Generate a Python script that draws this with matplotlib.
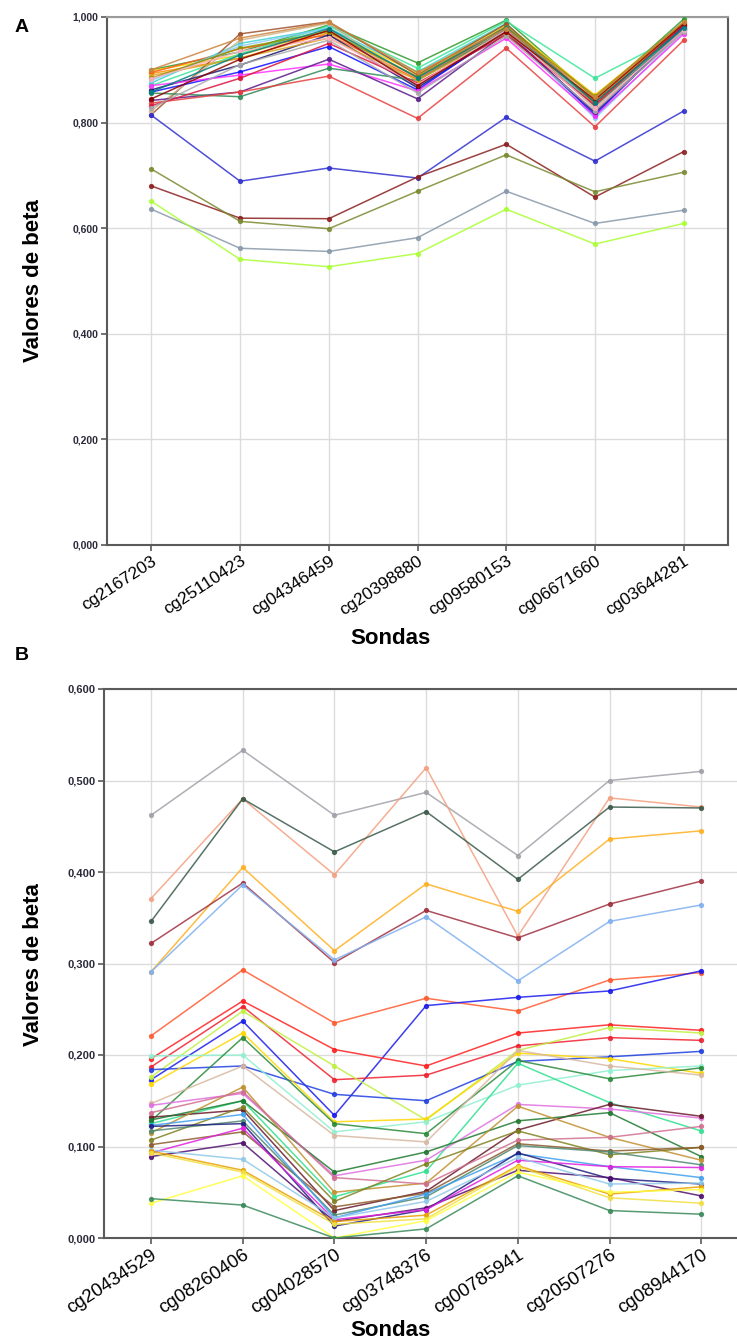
import numpy as np
import matplotlib
matplotlib.use("Agg")
import matplotlib.pyplot as plt

plt.rcParams['font.family'] = ['Liberation Sans', 'DejaVu Sans']

# ---- Panel A data ----
probes_a = ["cg2167203", "cg25110423", "cg04346459", "cg20398880",
            "cg09580153", "cg06671660", "cg03644281"]

series_a = [
    [0.900, 0.934, 0.985, 0.913, 0.994, 0.846, 0.996],
    [0.898, 0.928, 0.975, 0.893, 0.985, 0.852, 0.989],
    [0.893, 0.922, 0.970, 0.886, 0.981, 0.840, 0.985],
    [0.895, 0.940, 0.966, 0.882, 0.978, 0.835, 0.983],
    [0.875, 0.950, 0.979, 0.896, 0.988, 0.830, 0.980],
    [0.870, 0.930, 0.983, 0.903, 0.992, 0.884, 0.970],
    [0.815, 0.968, 0.991, 0.890, 0.987, 0.838, 0.982],
    [0.822, 0.956, 0.988, 0.870, 0.980, 0.826, 0.975],
    [0.880, 0.945, 0.979, 0.867, 0.976, 0.808, 0.972],
    [0.862, 0.909, 0.966, 0.866, 0.972, 0.818, 0.978],
    [0.858, 0.896, 0.944, 0.862, 0.976, 0.814, 0.983],
    [0.870, 0.890, 0.911, 0.860, 0.960, 0.812, 0.968],
    [0.842, 0.858, 0.920, 0.845, 0.970, 0.820, 0.975],
    [0.856, 0.849, 0.903, 0.880, 0.975, 0.830, 0.978],
    [0.837, 0.858, 0.888, 0.808, 0.941, 0.792, 0.956],
    [0.832, 0.884, 0.950, 0.875, 0.966, 0.833, 0.985],
    [0.889, 0.922, 0.960, 0.880, 0.970, 0.845, 0.989],
    [0.884, 0.941, 0.972, 0.887, 0.982, 0.850, 0.990],
    [0.828, 0.910, 0.956, 0.856, 0.964, 0.822, 0.972],
    [0.883, 0.935, 0.960, 0.872, 0.975, 0.828, 0.975],
    [0.845, 0.920, 0.975, 0.870, 0.972, 0.843, 0.987],
    [0.858, 0.928, 0.978, 0.885, 0.980, 0.838, 0.980],
    [0.900, 0.960, 0.990, 0.895, 0.978, 0.848, 0.991],
    # lower group
    [0.814, 0.689, 0.714, 0.695, 0.810, 0.727, 0.822],
    [0.680, 0.619, 0.618, 0.697, 0.759, 0.659, 0.745],
    [0.712, 0.613, 0.599, 0.670, 0.739, 0.669, 0.706],
    [0.636, 0.562, 0.556, 0.582, 0.670, 0.609, 0.634],
    [0.651, 0.541, 0.527, 0.552, 0.636, 0.570, 0.609],
]
colors_a = [
    "#2e9b2e", "#ffd000", "#ff8c00", "#ff5a1a", "#40d0d0", "#3ce69a",
    "#a0522d", "#d2b48c", "#87cefa", "#191970", "#1010ff", "#ff30ff",
    "#5a1a8b", "#2e8b57", "#e84040", "#dc143c", "#daa520", "#909000",
    "#a9a9a9", "#ffb0c0", "#8b0000", "#008080", "#cd853f",
    "#3030d0", "#8b2020", "#7a8a30", "#8899aa", "#aaff33",
]

# ---- Panel B data ----
probes_b = ["cg20434529", "cg08260406", "cg04028570", "cg03748376",
            "cg00785941", "cg20507276", "cg08944170"]

series_b = [
    [0.462, 0.533, 0.462, 0.487, 0.418, 0.500, 0.510],
    [0.371, 0.480, 0.397, 0.514, 0.330, 0.481, 0.471],
    [0.346, 0.480, 0.422, 0.466, 0.392, 0.471, 0.470],
    [0.291, 0.405, 0.314, 0.387, 0.357, 0.436, 0.445],
    [0.322, 0.388, 0.301, 0.358, 0.328, 0.365, 0.390],
    [0.291, 0.386, 0.304, 0.351, 0.281, 0.346, 0.364],
    [0.221, 0.293, 0.235, 0.262, 0.248, 0.282, 0.290],
    [0.173, 0.237, 0.134, 0.254, 0.263, 0.270, 0.292],
    [0.196, 0.259, 0.206, 0.188, 0.224, 0.233, 0.227],
    [0.187, 0.253, 0.173, 0.178, 0.210, 0.219, 0.216],
    [0.176, 0.248, 0.188, 0.129, 0.205, 0.230, 0.224],
    [0.184, 0.188, 0.157, 0.150, 0.193, 0.198, 0.204],
    [0.168, 0.224, 0.127, 0.130, 0.202, 0.196, 0.180],
    [0.199, 0.200, 0.116, 0.127, 0.167, 0.183, 0.188],
    [0.128, 0.219, 0.125, 0.114, 0.194, 0.174, 0.186],
    [0.147, 0.188, 0.112, 0.105, 0.205, 0.188, 0.178],
    [0.125, 0.150, 0.045, 0.073, 0.191, 0.148, 0.117],
    [0.145, 0.158, 0.068, 0.085, 0.146, 0.141, 0.131],
    [0.132, 0.140, 0.030, 0.051, 0.118, 0.146, 0.133],
    [0.129, 0.150, 0.072, 0.094, 0.128, 0.137, 0.089],
    [0.115, 0.165, 0.050, 0.060, 0.144, 0.110, 0.085],
    [0.137, 0.160, 0.066, 0.059, 0.107, 0.110, 0.122],
    [0.107, 0.143, 0.040, 0.081, 0.117, 0.091, 0.099],
    [0.102, 0.116, 0.034, 0.049, 0.103, 0.095, 0.099],
    [0.117, 0.128, 0.025, 0.045, 0.101, 0.094, 0.080],
    [0.123, 0.135, 0.022, 0.048, 0.092, 0.078, 0.066],
    [0.122, 0.125, 0.013, 0.031, 0.093, 0.065, 0.059],
    [0.089, 0.104, 0.018, 0.033, 0.074, 0.066, 0.046],
    [0.093, 0.120, 0.020, 0.031, 0.085, 0.078, 0.077],
    [0.096, 0.086, 0.022, 0.040, 0.088, 0.059, 0.060],
    [0.095, 0.074, 0.018, 0.025, 0.079, 0.048, 0.056],
    [0.093, 0.072, 0.015, 0.021, 0.078, 0.044, 0.038],
    [0.038, 0.068, 0.000, 0.019, 0.072, 0.050, 0.053],
    [0.043, 0.036, 0.000, 0.010, 0.068, 0.030, 0.026],
]
colors_b = [
    "#a0a0a8", "#f4a080", "#3a5a4a", "#ffb020", "#a03040", "#80b0f0",
    "#ff5a30", "#1a1aee", "#ff2020", "#f02030", "#c0f040", "#2040e0",
    "#ffd800", "#90f0d0", "#2a8a3a", "#d8b8a0", "#30e090", "#e070e0",
    "#6a1a2a", "#207a30", "#c09030", "#d07090", "#808020", "#8b5a2b",
    "#508870", "#40a0f0", "#202080", "#501070", "#e020e0", "#90c8e8",
    "#e8a000", "#f0e040", "#ffff40", "#3a8a5a",
]

grid_col = "#dcdcdc"
spine_col = "#5a5a5a"
tick_col = "#2a2a3a"


def style_axes(ax, ticks, ticklabels, fmt_size, xlab_size):
    ax.grid(True, color=grid_col, linewidth=1.0, zorder=0)
    ax.set_axisbelow(True)
    ax.set_yticks(ticks)
    ax.set_yticklabels([f"{t:.3f}".replace(".", ",") for t in ticks],
                       fontsize=fmt_size, fontweight="bold", color=tick_col)
    ax.set_xticks(range(len(ticklabels)))
    ax.set_xticklabels(ticklabels, rotation=33, ha="right",
                       rotation_mode="anchor", fontsize=xlab_size)
    ax.tick_params(axis="both", length=4, width=1.2, color=spine_col, pad=2)
    for s in ax.spines.values():
        s.set_color(spine_col)
        s.set_linewidth(1.5)


fig = plt.figure(figsize=(7.37, 13.44), dpi=100)

# ---- Panel A ----
ax_a = fig.add_axes([107 / 737, 1 - 545 / 1344, 621 / 737, 528 / 1344])
xs = np.arange(len(probes_a))
for vals, c in zip(series_a, colors_a):
    ax_a.plot(xs, vals, color=c, linewidth=1.1, marker="o", markersize=2.8,
              alpha=0.85, zorder=3)
ax_a.set_xlim(-0.5, 6.5)
ax_a.set_ylim(0, 1.0)
style_axes(ax_a, [0, 0.2, 0.4, 0.6, 0.8, 1.0], probes_a, 7.5, 12.5)
ax_a.spines["top"].set_color("#9a9a9a")

fig.text(390 / 737, 1 - 638 / 1344, "Sondas", ha="center", va="center",
         fontsize=16, fontweight="bold")
fig.text(34 / 737, 1 - 281 / 1344, "Valores de beta", ha="center",
         va="center", rotation=90, fontsize=16, fontweight="bold")
fig.text(22 / 737, 1 - 28 / 1344, "A", ha="center", va="center",
         fontsize=14, fontweight="bold")

# ---- Panel B ----
ax_b = fig.add_axes([104 / 737, 1 - 1238 / 1344, 633 / 737, 549 / 1344])
xs = np.arange(len(probes_b))
for vals, c in zip(series_b, colors_b):
    ax_b.plot(xs, vals, color=c, linewidth=1.1, marker="o", markersize=2.8,
              alpha=0.85, zorder=3)
ax_b.set_xlim(-0.513, 6.39)
ax_b.set_ylim(0, 0.6)
style_axes(ax_b, [0, 0.1, 0.2, 0.3, 0.4, 0.5, 0.6], probes_b, 8, 13.5)
ax_b.spines["right"].set_visible(False)

fig.text(390 / 737, 1 - 1331 / 1344, "Sondas", ha="center", va="center",
         fontsize=16, fontweight="bold")
fig.text(34 / 737, 1 - 965 / 1344, "Valores de beta", ha="center",
         va="center", rotation=90, fontsize=16, fontweight="bold")
fig.text(22 / 737, 1 - 655 / 1344, "B", ha="center", va="center",
         fontsize=14, fontweight="bold")

fig.savefig("out.png", dpi=100)
